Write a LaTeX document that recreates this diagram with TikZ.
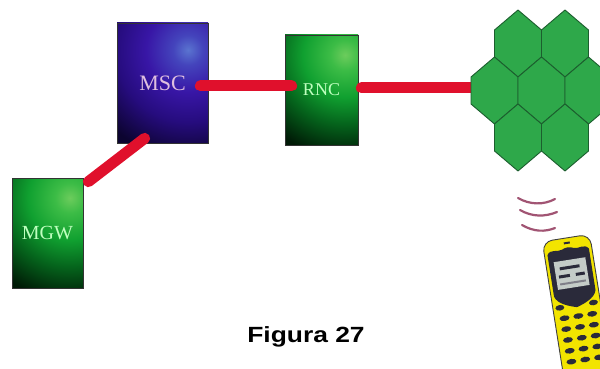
\documentclass[tikz,border=0pt]{standalone}
\usepackage{fontspec}
\setmainfont{Liberation Serif}
\newfontfamily\capfont{Liberation Sans}
\usetikzlibrary{calc}

% palette
\definecolor{linkred}{HTML}{E0102C}
\definecolor{cellfill}{HTML}{2EA84A}
\definecolor{celledge}{HTML}{1C5E2E}
\definecolor{phoneyellow}{HTML}{F2E400}
\definecolor{phonedark}{HTML}{2A2A3A}
\definecolor{lcdgray}{HTML}{C4CCC8}
\definecolor{wavecol}{HTML}{8A2A50}

% purple glow for the switching centre
\definecolor{mscA}{HTML}{5A74D0}
\definecolor{mscB}{HTML}{4444BC}
\definecolor{mscC}{HTML}{3816A6}
\definecolor{mscD}{HTML}{260C7E}
\definecolor{mscE}{HTML}{0C0430}
\pgfdeclareradialshading{mscglow}{\pgfpoint{0bp}{0bp}}{%
  color(0bp)=(mscA); color(2.5bp)=(mscB); color(7bp)=(mscC);
  color(12bp)=(mscD); color(18bp)=(mscE); color(50bp)=(mscE)}

% green glow for controller and gateway
\definecolor{grnA}{HTML}{6CCC5C}
\definecolor{grnB}{HTML}{3CBC46}
\definecolor{grnC}{HTML}{10A030}
\definecolor{grnD}{HTML}{05641C}
\definecolor{grnE}{HTML}{001A06}
\pgfdeclareradialshading{grnglow}{\pgfpoint{0bp}{0bp}}{%
  color(0bp)=(grnA); color(2.5bp)=(grnB); color(7bp)=(grnC);
  color(11.5bp)=(grnD); color(17bp)=(grnE); color(50bp)=(grnE)}

\tikzset{
  unitbox/.style={draw=black!80, line width=0.7pt, inner sep=0pt},
  mscunit/.style={unitbox, text=violet!25!white,
    path picture={\shade[shading=mscglow]
      ($(path picture bounding box.north east)+(-20,27)$) circle (150);}},
  grnunit/.style={unitbox, text=green!25!white,
    path picture={\shade[shading=grnglow]
      ($(path picture bounding box.north east)+(-13,20)$) circle (150);}},
  redlink/.style={draw=linkred, line width=11pt, line cap=round},
  cell/.style={fill=cellfill, draw=celledge, line width=0.9pt, line join=round},
  wave/.style={draw=wavecol, line width=2.2pt, line cap=round, opacity=0.8},
  key/.style={fill=phonedark},
}

\begin{document}
\begin{tikzpicture}[x=1pt, y=-1pt]
  \clip (0,0) rectangle (600,369);
  \fill[white] (0,0) rectangle (600,369);

  % network elements
  \node[mscunit, minimum width=91pt, minimum height=120pt] (msc) at (162.5,83)
    {\fontsize{22}{22}\selectfont MSC};
  \node[grnunit, minimum width=73pt, minimum height=110pt] (rnc) at (321.5,90)
    {\fontsize{18}{18}\selectfont RNC};
  \node[grnunit, minimum width=71pt, minimum height=110pt] (mgw) at (47.5,233)
    {\fontsize{20}{20}\selectfont MGW};

  % anchor point on the cell cluster
  \coordinate (cellL) at (474,88);

  % controller to radio cells (passes under the cells)
  \draw[redlink] ($(rnc.east)+(3,-2)$) -- (cellL);

  % radio cells: tall hexagons in a honeycomb
  \foreach \cx/\cy in {518/43.5, 565/43.5, 494.5/90.5, 541.5/90.5, 588.5/90.5, 518/137.5, 565/137.5}{
    \draw[cell] (\cx,\cy-33.5) -- (\cx+23.5,\cy-13.5) -- (\cx+23.5,\cy+13.5)
      -- (\cx,\cy+33.5) -- (\cx-23.5,\cy+13.5) -- (\cx-23.5,\cy-13.5) -- cycle;
  }

  % trunk links
  \draw[redlink] ($(msc.east)+(-8,3)$) -- ($(rnc.west)+(7,-4)$);
  \draw[redlink] ($(msc.south west)+(28,-5)$) -- ($(mgw.north east)+(5,4)$);

  % radio waves
  \draw[wave] (518,198) .. controls (530,205) and (544,205) .. (555,199);
  \draw[wave] (520,210) .. controls (532,217) and (545,217) .. (557,212);
  \draw[wave] (522,225) .. controls (534,232) and (545,232) .. (555,228);

  % handset
  \begin{scope}[shift={(566,238)}, rotate=9]
    \draw[fill=phoneyellow, draw=black!75, line width=0.9pt, rounded corners=10]
      (-24,0) rectangle (24,150);
    \fill[phonedark] (-3,4) rectangle (3,6);
    % screen surround
    \fill[phonedark] (-21,14) .. controls (-17,8) and (-11,13) .. (-6,11)
      .. controls (-2,9) and (2,9) .. (6,11)
      .. controls (11,13) and (17,8) .. (21,14)
      -- (21,56) .. controls (19,64) and (7,68) .. (0,70)
      .. controls (-7,68) and (-19,64) .. (-21,56) -- cycle;
    \fill[lcdgray] (-16,22) rectangle (16,50);
    \fill[phonedark] (-11,28) rectangle (9,31);
    \fill[phonedark] (-13,36) rectangle (-2,39);
    \fill[phonedark] (4,36) rectangle (13,39);
    \fill[phonedark!60] (-13,44) rectangle (13,46);
    % side keys
    \fill[key] (-17,68) ellipse (4.5 and 2.8);
    \fill[key] (17,68) ellipse (4.5 and 2.8);
    % keypad
    \foreach \ky in {79,90,101,112,123}{
      \foreach \kx in {-14,0,14}{
        \fill[key] (\kx,\ky) ellipse (5 and 2.8);
      }
    }
  \end{scope}

  % caption
  \node[font=\capfont\bfseries\fontsize{22}{22}\selectfont, xscale=1.2, anchor=base]
    (cap) at (306,342) {Figura 27};
\end{tikzpicture}
\end{document}
